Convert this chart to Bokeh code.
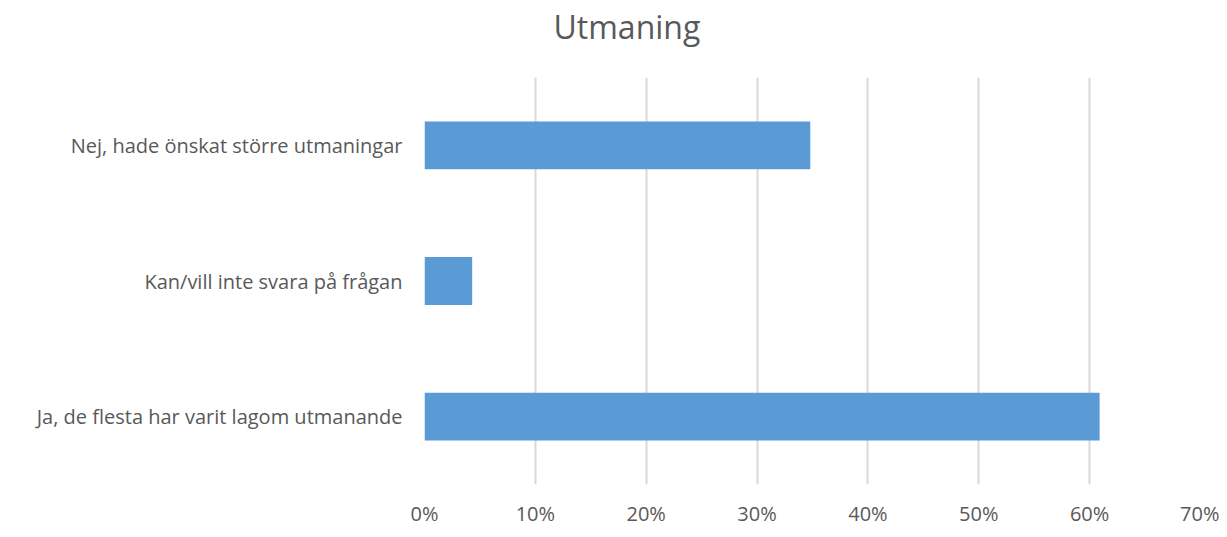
from bokeh.plotting import figure
from bokeh.models import FactorRange, Range1d, FixedTicker, NumeralTickFormatter, ColumnDataSource, Title
from bokeh.embed import file_html
from bokeh.resources import INLINE

categories = ["Ja, de flesta har varit lagom utmanande",
              "Kan/vill inte svara på frågan",
              "Nej, hade önskat större utmaningar"]
values = [0.609, 0.043, 0.348]
tick_values = [0.0, 0.1, 0.2, 0.3, 0.4, 0.5, 0.6, 0.7]
title_text = "Utmaning"

src = ColumnDataSource(dict(cat=categories, val=values))

p = figure(width=1219, height=529, output_backend="svg", toolbar_location=None,
           y_range=FactorRange(factors=categories), x_range=Range1d(0, 0.7),
           min_border_left=424, min_border_right=19, min_border_top=77, min_border_bottom=36)

p.hbar(y="cat", right="val", left=0, height=0.352, source=src, color="#5b9bd5", line_color=None)

p.title.text = ""
spacer = Title(text=" ", text_font_size="25px", standoff=0)
main_title = Title(text=title_text, align="left", offset=129, vertical_align="bottom", standoff=0,
                   text_font="Open Sans", text_font_size="32px", text_font_style="normal",
                   text_color="#595959")
p.add_layout(spacer, "above")
p.add_layout(main_title, "above")

p.outline_line_color = None
p.ygrid.grid_line_color = None
p.xgrid.grid_line_color = "#d9d9d9"
p.xgrid.grid_line_width = 2
p.xaxis.ticker = FixedTicker(ticks=tick_values)
p.xaxis.formatter = NumeralTickFormatter(format="0%")

for ax in (p.xaxis[0], p.yaxis[0]):
    ax.axis_line_color = None
    ax.major_tick_line_color = None
    ax.minor_tick_line_color = None
    ax.major_tick_out = 0
    ax.major_tick_in = 0
    ax.minor_tick_out = 0
    ax.minor_tick_in = 0
    ax.major_label_text_font = "Open Sans"
    ax.major_label_text_font_size = "20px"
    ax.major_label_text_color = "#595959"

p.xaxis.major_label_standoff = 15
p.yaxis.major_label_standoff = 22

open("out.html", "w").write(file_html(p, INLINE))
